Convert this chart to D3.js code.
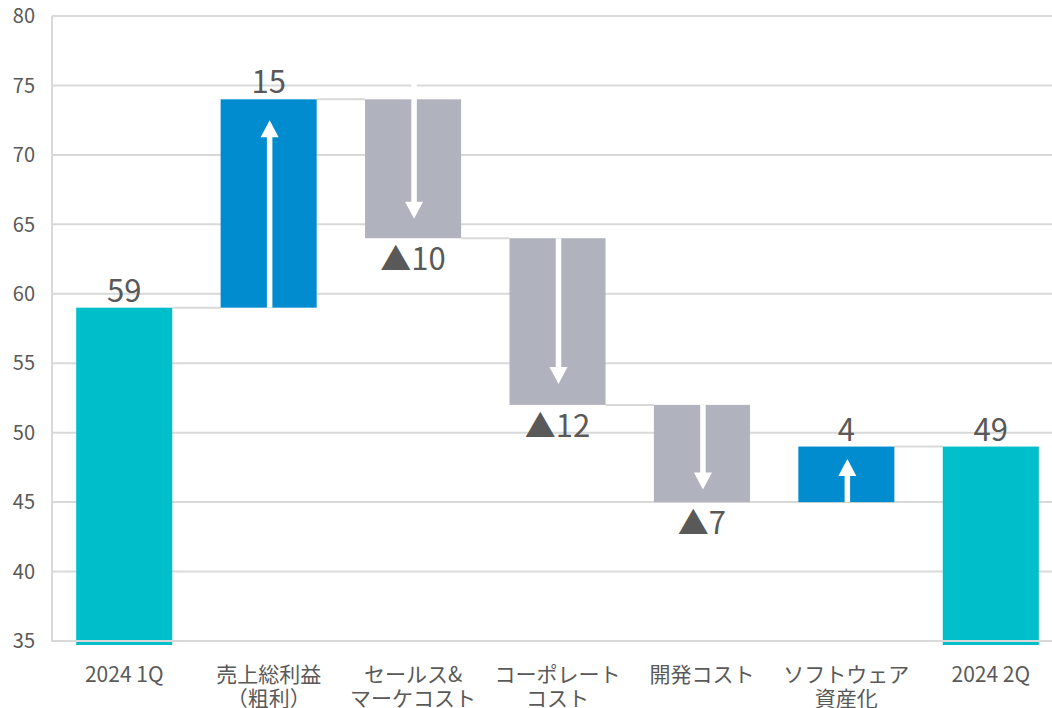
<!DOCTYPE html>
<html lang="ja">
<head>
<meta charset="utf-8">
<script src="https://cdn.jsdelivr.net/npm/d3@7"></script>
<style>
  html, body { margin: 0; padding: 0; background: #fff; }
  svg { display: block; font-family: "Noto Sans CJK JP", "Noto Sans", sans-serif; }
</style>
</head>
<body>
<svg id="chart" width="1052" height="708"></svg>
<script>
// Waterfall: operating result bridge from 2024 1Q to 2024 2Q
const categories = [
  ["2024 1Q"],
  ["売上総利益", "（粗利）"],
  ["セールス&", "マーケコスト"],
  ["コーポレート", "コスト"],
  ["開発コスト"],
  ["ソフトウェア", "資産化"],
  ["2024 2Q"]
];
const kinds   = ["total", "delta", "delta", "delta", "delta", "delta", "total"];
const values  = [59, 15, -10, -12, -7, 4, 49];
// arrow extents inside the change bars (value units)
const arrowFrom = [null, 59, 75.3, 64, 52, 45, null];
const arrowTo   = [null, 72.5, 65.4, 53.5, 45.9, 48.1, null];
const yTicks = [35, 40, 45, 50, 55, 60, 65, 70, 75, 80];

const colors = { total: "#00BFCB", up: "#008CCE", down: "#B0B2BE" };
const textColor = "#595959";
const gridColor = "#D9D9D9";

// running start/end of each bar
let running = 0;
const bars = values.map((v, i) => {
  let start, end;
  if (kinds[i] === "total") { start = 35; end = v; running = v; }
  else { start = running; end = running + v; running = end; }
  return { i, kind: kinds[i], value: v, start, end };
});

const svg = d3.select("#chart");
const W = 1052;
const plotLeft = 52, plotTop = 16, plotBottom = 641;

const x = d3.scaleBand().domain(d3.range(categories.length))
  .range([plotLeft, 1063]).paddingInner(0.335).paddingOuter(0.1675);
const y = d3.scaleLinear().domain([35, 80]).range([plotBottom, plotTop]);

// gridlines
svg.append("g").selectAll("line").data(yTicks.filter(t => t !== 35)).join("line")
  .attr("x1", plotLeft).attr("x2", W)
  .attr("y1", d => y(d)).attr("y2", d => y(d))
  .attr("stroke", gridColor).attr("stroke-width", 2);

// y tick labels
svg.append("g").selectAll("text").data(yTicks).join("text")
  .attr("x", 35).attr("y", d => y(d)).attr("dy", "0.36em")
  .attr("text-anchor", "end").attr("fill", textColor)
  .attr("font-size", 20).text(d => d);

// connectors between consecutive bars
const conn = svg.append("g");
for (let k = 0; k < bars.length - 1; k++) {
  const level = bars[k].end;
  conn.append("line")
    .attr("x1", x(k) + x.bandwidth()).attr("x2", x(k + 1))
    .attr("y1", y(level)).attr("y2", y(level))
    .attr("stroke", gridColor).attr("stroke-width", 2);
}

// bars
svg.append("g").selectAll("rect").data(bars).join("rect")
  .attr("x", d => x(d.i)).attr("width", x.bandwidth())
  .attr("y", d => y(Math.max(d.start, d.end)))
  .attr("height", d => Math.abs(y(d.start) - y(d.end)) + (d.kind === "total" ? 4 : 0))
  .attr("fill", d => d.kind === "total" ? colors.total : (d.value > 0 ? colors.up : colors.down));

// axis lines
svg.append("line").attr("x1", plotLeft).attr("x2", plotLeft).attr("y1", plotTop).attr("y2", plotBottom + 1)
  .attr("stroke", gridColor).attr("stroke-width", 2);
svg.append("line").attr("x1", plotLeft).attr("x2", W).attr("y1", plotBottom).attr("y2", plotBottom)
  .attr("stroke", gridColor).attr("stroke-width", 2);

// white arrows in change bars
const arrows = svg.append("g");
bars.filter(d => d.kind === "delta").forEach(d => {
  const cx = x(d.i) + x.bandwidth() / 2 + 1;
  const y0 = y(arrowFrom[d.i]), y1 = y(arrowTo[d.i]);
  const dir = y1 < y0 ? -1 : 1;
  const headLen = 17, headW = 9;
  arrows.append("line")
    .attr("x1", cx).attr("x2", cx)
    .attr("y1", y0).attr("y2", y1 - dir * headLen + dir * 1)
    .attr("stroke", "#fff").attr("stroke-width", 5.5);
  arrows.append("path")
    .attr("d", `M${cx},${y1} L${cx - headW},${y1 - dir * headLen} L${cx + headW},${y1 - dir * headLen} Z`)
    .attr("fill", "#fff");
});

// value labels
svg.append("g").selectAll("text").data(bars).join("text")
  .attr("x", d => x(d.i) + x.bandwidth() / 2)
  .attr("y", d => d.value < 0 ? y(d.end) + 4 : y(Math.max(d.start, d.end)) - 6)
  .attr("dy", d => d.value < 0 ? "0.9em" : "0")
  .attr("text-anchor", "middle").attr("fill", textColor)
  .attr("font-size", 31)
  .text(d => d.value < 0 ? "▲" + Math.abs(d.value) : d.value);

// category labels
const cat = svg.append("g");
categories.forEach((lines, i) => {
  const t = cat.append("text")
    .attr("x", x(i) + x.bandwidth() / 2).attr("y", 682)
    .attr("text-anchor", "middle").attr("fill", textColor)
    .attr("font-size", 21);
  lines.forEach((s, j) => {
    t.append("tspan").attr("x", x(i) + x.bandwidth() / 2)
      .attr("dy", j === 0 ? 0 : 24).text(s);
  });
});
</script>
</body>
</html>
